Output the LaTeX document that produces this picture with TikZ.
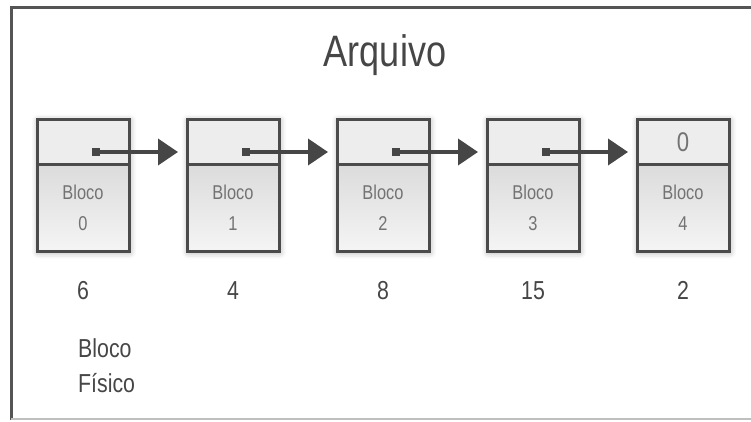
\documentclass[tikz,border=0pt]{standalone}
\usepackage{fontspec}
\setmainfont{Liberation Sans}[FakeStretch=0.82]
\definecolor{framegray}{RGB}{85,85,85}
\definecolor{boxgray}{RGB}{75,75,75}
\definecolor{textgray}{RGB}{115,115,115}
\definecolor{labelgray}{RGB}{70,70,70}
\usetikzlibrary{arrows.meta, positioning, fit, backgrounds, shadows.blur}

\begin{document}
\begin{tikzpicture}[
    x=1pt, y=-1pt,
    ptrcell/.style={rectangle, draw=boxgray, line width=3pt, fill=black!7, minimum width=92pt, minimum height=45pt, inner sep=0pt, outer sep=0pt, font=\fontsize{27}{30}\selectfont, text=textgray},
    datacell/.style={rectangle, draw=boxgray, line width=3pt, top color=black!14, bottom color=black!4, minimum width=92pt, minimum height=87pt, inner sep=0pt, outer sep=0pt, align=center, font=\fontsize{20}{31}\selectfont, text=textgray},
    shade/.style={fill=white, inner sep=0pt, blur shadow={shadow xshift=1pt, shadow yshift=-1pt, shadow blur radius=6pt, shadow opacity=35}},
    num/.style={inner sep=0pt, font=\fontsize{26}{30}\selectfont, text=labelgray},
    link/.style={{Square[length=8pt,width=8pt]}-{Triangle[length=20pt,width=26pt]}, line width=3.8pt, labelgray, shorten >=9pt},
    frame/.style={line width=3pt, framegray},
  ]
  \useasboundingbox (0,0) rectangle (751,422);

  \draw[frame] (751,8) -- (11,8) -- (11,420);
  \draw[line width=2pt, black!25] (11,419) -- (751,419);

  \node[anchor=base, font=\fontsize{44}{50}\selectfont, text=labelgray] (title) at (385,67) {Arquivo};

  % blocos do arquivo
  \foreach \i/\n/\t in {0/6/{},1/4/{},2/8/{},3/15/{},4/2/0} {
    \node[ptrcell] (ptr\i) at (83+150*\i,142) {\t};
    \node[datacell, below=0pt of ptr\i] (dat\i) {Bloco\\\i};
    \node[num, below=30pt of dat\i] (num\i) {\n};
    \begin{scope}[on background layer]
      \node[shade, fit=(ptr\i)(dat\i)] {};
    \end{scope}
  }

  % ponteiros
  \foreach \i [evaluate=\i as \j using int(\i+1)] in {0,...,3} {
    \coordinate (tail\i) at ([xshift=9pt,yshift=-10pt]ptr\i.center);
    \draw[link] (tail\i) -- (tail\i -| ptr\j.west);
  }

  \node[anchor=north west, inner sep=0pt, align=left, font=\fontsize{26}{35}\selectfont, text=labelgray] (legend) at (78,338) {Bloco\\Físico};
\end{tikzpicture}
\end{document}
